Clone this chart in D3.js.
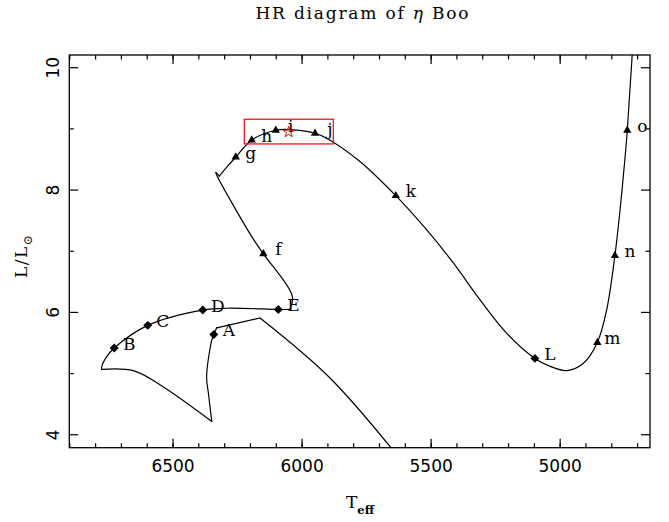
<!DOCTYPE html>
<html><head><meta charset="utf-8">
<script src="https://cdn.jsdelivr.net/npm/d3@7"></script>
<style>body{margin:0;background:#fff}</style>
</head><body><svg id="c" width="669" height="522"></svg>
<script>
// ---- data ----
const tempTicks = [6500, 6000, 5500, 5000];
const tempMinor = d3.range(4700, 6901, 100);
const lumTicks = [4, 6, 8, 10];
const lumMinor = [5, 7, 9];

const trackT = [5619,5890,6161,6329,6340,6348,6368,6361,6348,6549,6652,6774,6774,6755,6726,6596,6383,6290,6090,6045,6036,6148,6193,6329,6332,6319,6285,6255,6193,6100,6045,5948,5903,5774,5635,5515,5412,5309,5205,5096,5037,4973,4908,4854,4818,4786,4766,4744,4738,4719,4716];
const trackL = [3.60,4.92,5.90,5.74,5.63,5.54,4.94,4.67,4.21,4.81,5.04,5.06,5.11,5.27,5.41,5.78,6.03,6.06,6.04,6.04,6.26,6.95,7.23,8.24,8.28,8.22,8.39,8.53,8.81,8.97,8.98,8.92,8.84,8.46,7.90,7.34,6.80,6.20,5.65,5.24,5.11,5.04,5.16,5.50,6.03,6.92,7.67,8.65,8.97,10.20,10.36];
// indices where the track has sharp corners
const trackCorners = [0,2,3,8,11,19,24,25,50];

const markerLabels = ["A","B","C","D","E","f","g","h","i","j","k","L","m","n","o"];
const markerT = [6340,6726,6596,6383,6090,6148,6255,6193,6100,5948,5635,5096,4854,4786,4738];
const markerL = [5.63,5.41,5.78,6.03,6.04,6.95,8.53,8.81,8.97,8.92,7.90,5.24,5.50,6.92,8.97];

const boxT = [6222, 5877];
const boxL = [8.746, 9.15];
const starT = [6050];
const starL = [8.94];

// ---- layout ----
const svg = d3.select("#c");
const X0 = 69.3, X1 = 650, Y0 = 55, Y1 = 447.7;
const x = d3.scaleLinear().domain([6900, 4650]).range([X0, X1]);
const y = d3.scaleLinear().domain([3.78, 10.2]).range([Y1, Y0]);

svg.append("defs").append("clipPath").attr("id","clip")
  .append("rect").attr("x",X0).attr("y",Y0).attr("width",X1-X0).attr("height",Y1-Y0);

const axStyle = g => { g.select(".domain").remove(); g.selectAll("line").attr("stroke","#000").attr("stroke-width",1.2); };

// bottom
svg.append("g").attr("transform",`translate(0,${Y1})`)
  .call(d3.axisBottom(x).tickValues(tempMinor).tickSize(-4.5).tickFormat(""))
  .call(axStyle);
const bx = svg.append("g").attr("transform",`translate(0,${Y1})`)
  .call(d3.axisBottom(x).tickValues(tempTicks).tickSize(-9).tickFormat(d3.format("d")))
  .call(axStyle);
bx.selectAll("text").attr("y",24).attr("dy",0)
  .attr("font-family","DejaVu Sans").attr("font-size",17).attr("fill","#000");
// top
svg.append("g").attr("transform",`translate(0,${Y0})`)
  .call(d3.axisTop(x).tickValues(tempMinor).tickSize(-4.5).tickFormat(""))
  .call(axStyle);
svg.append("g").attr("transform",`translate(0,${Y0})`)
  .call(d3.axisTop(x).tickValues(tempTicks).tickSize(-9).tickFormat(""))
  .call(axStyle);
// left
svg.append("g").attr("transform",`translate(${X0},0)`)
  .call(d3.axisLeft(y).tickValues(lumMinor).tickSize(-4.5).tickFormat(""))
  .call(axStyle);
const ly = svg.append("g").attr("transform",`translate(${X0},0)`)
  .call(d3.axisLeft(y).tickValues(lumTicks).tickSize(-9).tickFormat(d3.format("d")))
  .call(axStyle);
ly.selectAll("text").attr("x",0).attr("dy",0).attr("text-anchor","middle")
  .attr("transform","translate(-10,0) rotate(-90)")
  .attr("font-family","DejaVu Sans").attr("font-size",17).attr("fill","#000");
// right
svg.append("g").attr("transform",`translate(${X1},0)`)
  .call(d3.axisRight(y).tickValues(lumMinor).tickSize(-4.5).tickFormat(""))
  .call(axStyle);
svg.append("g").attr("transform",`translate(${X1},0)`)
  .call(d3.axisRight(y).tickValues(lumTicks).tickSize(-9).tickFormat(""))
  .call(axStyle);
// frame
svg.append("rect").attr("x",X0).attr("y",Y0).attr("width",X1-X0).attr("height",Y1-Y0)
  .attr("fill","none").attr("stroke","#000").attr("stroke-width",1.3);

// track: smooth pieces between sharp corners
const pts = trackT.map((t,i)=>[t, trackL[i]]);
const smooth = d3.line().x(d=>x(d[0])).y(d=>y(d[1])).curve(d3.curveCatmullRom.alpha(0.5));
const tg = svg.append("g").attr("clip-path","url(#clip)");
for (let k = 0; k < trackCorners.length-1; k++) {
  const seg = pts.slice(trackCorners[k], trackCorners[k+1]+1);
  tg.append("path").attr("d", smooth(seg))
    .attr("fill","none").attr("stroke","#000").attr("stroke-width",1.2)
    .attr("stroke-linejoin","round").attr("stroke-linecap","round");
}

// markers
const diamond = d3.symbol().type(d3.symbolSquare).size(40);
const tri = d3.symbol().type(d3.symbolTriangle).size(30);
markerLabels.forEach((lab,i)=>{
  const px = x(markerT[i]), py = y(markerL[i]);
  const upper = lab === lab.toUpperCase();
  svg.append("path").attr("d", upper ? diamond() : tri())
    .attr("transform", upper ? `translate(${px},${py}) rotate(45)` : `translate(${px},${py})`)
    .attr("fill","#000");
  svg.append("text").attr("x",px+15).attr("y",py-4.5).attr("dy","0.36em")
    .attr("text-anchor","middle").attr("font-family","DejaVu Serif").attr("font-size",17)
    .attr("fill","#000").text(lab);
});

// red box & star
svg.append("rect").attr("x",x(boxT[0])).attr("y",y(boxL[1]))
  .attr("width",x(boxT[1])-x(boxT[0])).attr("height",y(boxL[0])-y(boxL[1]))
  .attr("fill","none").attr("stroke","#ff0000").attr("stroke-width",1.2);
svg.append("path").attr("d", d3.symbol().type(d3.symbolStar).size(38)())
  .attr("transform",`translate(${x(starT[0])},${y(starL[0])})`)
  .attr("fill","none").attr("stroke","#ff0000").attr("stroke-width",1);

// title
const tt = svg.append("text").attr("x",362).attr("y",19).attr("text-anchor","middle")
  .attr("font-family","DejaVu Serif").attr("font-size",17).attr("fill","#000")
  .attr("textLength",213).attr("lengthAdjust","spacing");
tt.append("tspan").text("HR diagram of ");
tt.append("tspan").attr("font-style","italic").text("η");
tt.append("tspan").text(" Boo");

// x label
const xl = svg.append("text").attr("x",346).attr("y",508.3)
  .attr("font-family","DejaVu Serif").attr("font-size",17).attr("fill","#000");
xl.append("tspan").text("T");
xl.append("tspan").attr("dy",6).attr("font-size",11.5).attr("font-weight","bold").text("eff");

// y label
const yl = svg.append("text").attr("transform","translate(26.7,278) rotate(-90)")
  .attr("font-family","DejaVu Serif").attr("font-size",17).attr("fill","#000");
yl.append("tspan").attr("letter-spacing",1.5).text("L/L");
yl.append("tspan").attr("dy",5).attr("font-size",12).text("⊙");
</script></body></html>
